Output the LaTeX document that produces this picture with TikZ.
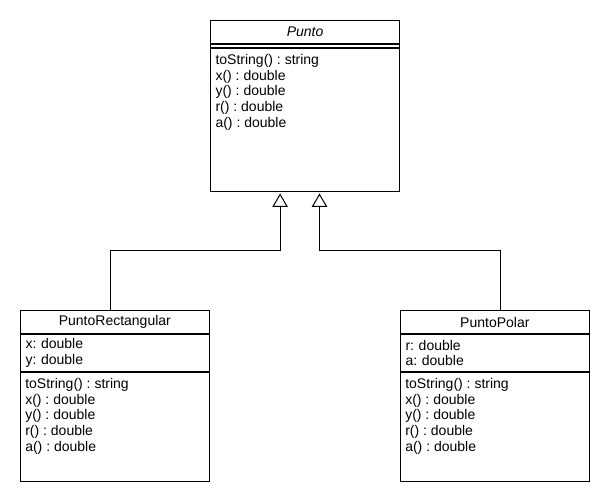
\documentclass[tikz,border=0pt]{standalone}
\usepackage{fontspec}
\setmainfont{Liberation Sans}
\usetikzlibrary{positioning,calc,arrows.meta}

\begin{document}
\begin{tikzpicture}[
x=0.75pt, y=-0.75pt,
every node/.style={font=\fontsize{10.5}{11.8}\selectfont\frenchspacing},
box/.style={
  draw,
  line width=0.75pt,
  minimum width=141.4pt,
  inner sep=0pt
  },
clsname/.style={box, minimum height=17.25pt},
attrs/.style={box, text width=134pt, align=left, minimum height=#1},
ops/.style={box, minimum height=#1},
opslist/.style={
  anchor=north west,
  align=left,
  inner xsep=3.7pt,
  inner ysep=4.5pt
  },
gen/.style={line width=0.75pt, -{Triangle[open, length=10pt, width=11.5pt]}}
]
\useasboundingbox (0,0) rectangle (610,500);
% Punto
\node[clsname, anchor=north] (p) at (305.1,20) {\itshape Punto};
\node[attrs=2.25pt, below=0pt of p] (p-a) {};
\node[ops=107.6pt, below=0pt of p-a] (p-o) {};
\node[opslist] (p-l) at (p-o.north west)
  {toString() : string\\x() : double\\y() : double\\r() : double\\a() : double};
% PuntoRectangular
\node[clsname, anchor=north] (pr) at (114.85,310) {PuntoRectangular};
\node[attrs=27.75pt, below=0pt of pr] (pr-a) {x: double\\y: double};
\node[ops=81.75pt, below=0pt of pr-a] (pr-o) {};
\node[opslist] (pr-l) at (pr-o.north west)
  {toString() : string\\x() : double\\y() : double\\r() : double\\a() : double};
% PuntoPolar
\node[clsname, anchor=north] (pp) at (494.85,310) {PuntoPolar};
\node[attrs=27.75pt, below=0pt of pp] (pp-a) {r: double\\a: double};
\node[ops=81.75pt, below=0pt of pp-a] (pp-o) {};
\node[opslist] (pp-l) at (pp-o.north west)
  {toString() : string\\x() : double\\y() : double\\r() : double\\a() : double};
% herencia
\draw[gen] ([xshift=-3.6pt]pr.north) -- ++(0,-60) -| ($(p-o.south)+(-25,1)$);
\draw[gen] ([xshift=4.6pt]pp.north) -- ++(0,-60) -| ($(p-o.south)+(14.4,1)$);
\end{tikzpicture}
\end{document}
